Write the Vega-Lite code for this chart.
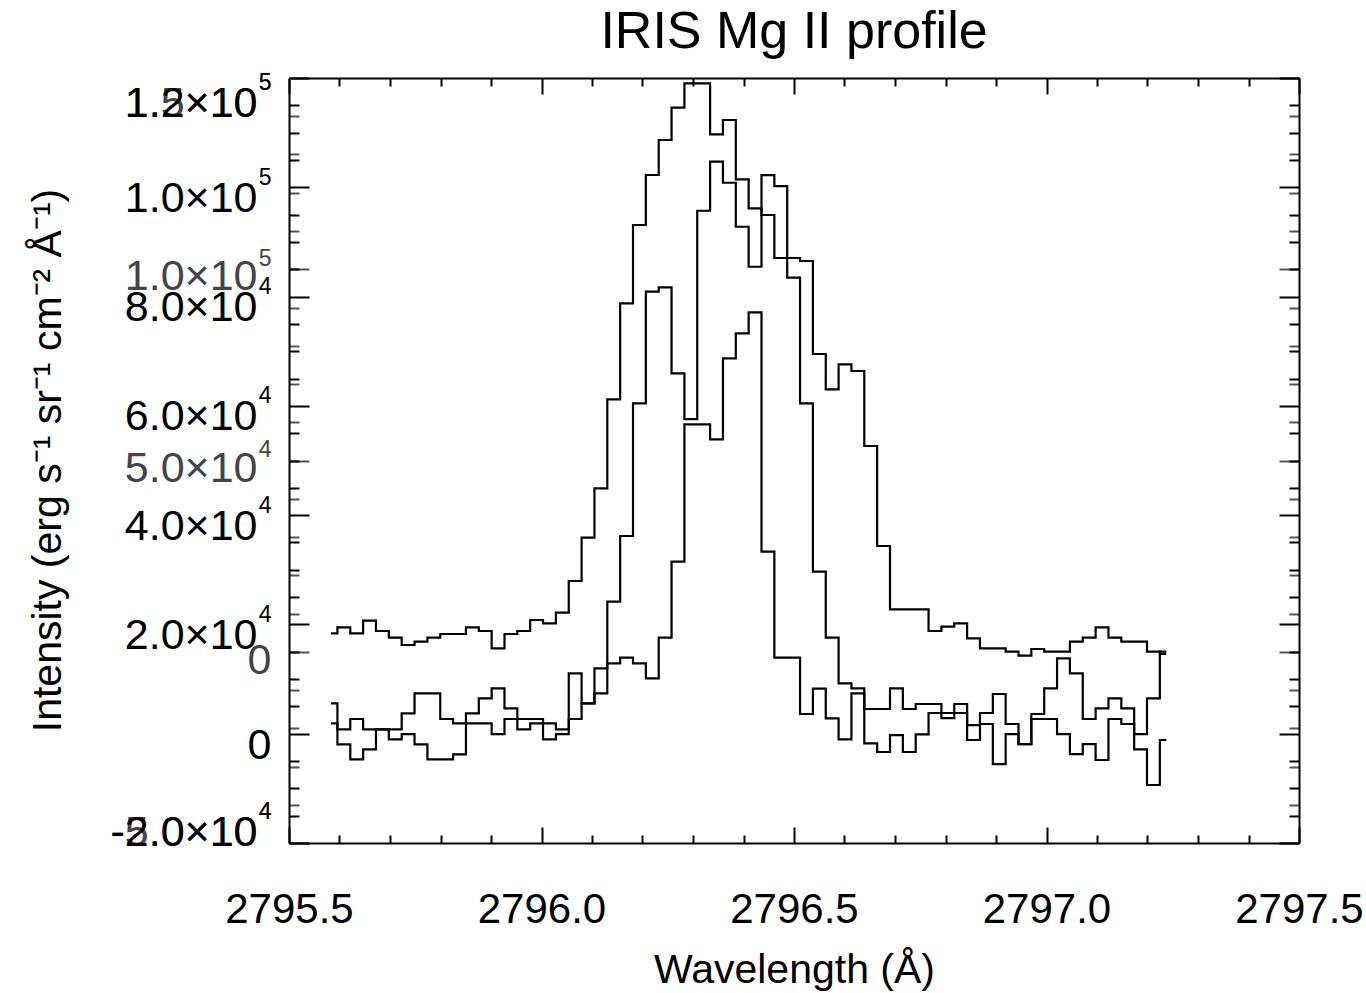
{
  "$schema": "https://vega.github.io/schema/vega-lite/v6.json",
  "width": 1010,
  "height": 765,
  "autosize": {"type": "none"},
  "padding": {"left": 289, "top": 78, "right": 67, "bottom": 150},
  "background": "white",
  "config": {
    "view": {"stroke": null},
    "font": "Liberation Sans",
    "axis": {
      "grid": false,
      "domainColor": "black",
      "domainWidth": 2,
      "tickColor": "black",
      "tickWidth": 2,
      "labelFont": "Liberation Sans",
      "labelFontSize": 43,
      "labelColor": "black",
      "labelOverlap": false,
      "labelFlush": false,
      "titleFont": "Liberation Sans",
      "titleFontSize": 41,
      "titleFontWeight": "normal",
      "titleColor": "black"
    }
  },
  "title": {
    "text": "IRIS Mg II profile",
    "font": "Liberation Sans",
    "fontSize": 52,
    "fontWeight": "normal",
    "color": "black",
    "anchor": "middle",
    "frame": "group",
    "baseline": "alphabetic",
    "offset": -29
  },
  "data": {
    "values": [
      {"w": 2795.5832, "A": 4820, "B": 5560, "C": 1900},
      {"w": 2795.6086, "A": 6390, "B": 800, "C": -1940},
      {"w": 2795.6341, "A": 4820, "B": 2690, "C": -4690},
      {"w": 2795.6595, "A": 8120, "B": 800, "C": -2860},
      {"w": 2795.6850, "A": 5430, "B": 800, "C": 800},
      {"w": 2795.7104, "A": 3670, "B": 800, "C": -1030},
      {"w": 2795.7359, "A": 1770, "B": 3730, "C": -60},
      {"w": 2795.7613, "A": 2630, "B": 7390, "C": -1940},
      {"w": 2795.7868, "A": 3670, "B": 7390, "C": -4690},
      {"w": 2795.8122, "A": 4640, "B": 2690, "C": -4690},
      {"w": 2795.8377, "A": 4640, "B": 1900, "C": -3770},
      {"w": 2795.8631, "A": 6390, "B": 3730, "C": 1900},
      {"w": 2795.8886, "A": 5430, "B": 6480, "C": 1900},
      {"w": 2795.9140, "A": 900, "B": 8310, "C": -60},
      {"w": 2795.9394, "A": 4640, "B": 4650, "C": 2690},
      {"w": 2795.9649, "A": 5430, "B": 2690, "C": 800},
      {"w": 2795.9903, "A": 8300, "B": 2690, "C": 1900},
      {"w": 2796.0158, "A": 7440, "B": 1900, "C": -1030},
      {"w": 2796.0412, "A": 10210, "B": 800, "C": -60},
      {"w": 2796.0667, "A": 18500, "B": 11050, "C": 2690},
      {"w": 2796.0921, "A": 29820, "B": 5560, "C": 5560},
      {"w": 2796.1176, "A": 42730, "B": 11970, "C": 7390},
      {"w": 2796.1430, "A": 66000, "B": 24160, "C": 12880},
      {"w": 2796.1685, "A": 91100, "B": 36180, "C": 13910},
      {"w": 2796.1939, "A": 111570, "B": 60460, "C": 12880},
      {"w": 2796.2194, "A": 124640, "B": 80890, "C": 10140},
      {"w": 2796.2448, "A": 133790, "B": 81690, "C": 17570},
      {"w": 2796.2703, "A": 142240, "B": 65950, "C": 31480},
      {"w": 2796.2957, "A": 148620, "B": 57590, "C": 56620},
      {"w": 2796.3211, "A": 148620, "B": 95710, "C": 56620},
      {"w": 2796.3466, "A": 135280, "B": 104680, "C": 53880},
      {"w": 2796.3720, "A": 139020, "B": 100830, "C": 68700},
      {"w": 2796.3975, "A": 123520, "B": 92780, "C": 73270},
      {"w": 2796.4229, "A": 115940, "B": 85460, "C": 77120},
      {"w": 2796.4484, "A": 114180, "B": 102240, "C": 33310},
      {"w": 2796.4738, "A": 102940, "B": 100230, "C": 13910},
      {"w": 2796.4993, "A": 102940, "B": 83450, "C": 13910},
      {"w": 2796.5247, "A": 102160, "B": 60460, "C": 3610},
      {"w": 2796.5502, "A": 77840, "B": 29650, "C": 8240},
      {"w": 2796.5756, "A": 68620, "B": 17570, "C": 2820},
      {"w": 2796.6010, "A": 75150, "B": 9220, "C": -1030},
      {"w": 2796.6265, "A": 73400, "B": 8310, "C": 7390},
      {"w": 2796.6519, "A": 53790, "B": 4520, "C": -1760},
      {"w": 2796.6774, "A": 27650, "B": 4520, "C": -3350},
      {"w": 2796.7028, "A": 11100, "B": 8310, "C": -240},
      {"w": 2796.7283, "A": 11100, "B": 4520, "C": -3350},
      {"w": 2796.7537, "A": 11100, "B": 5440, "C": -110},
      {"w": 2796.7792, "A": 5430, "B": 5440, "C": 3790},
      {"w": 2796.8046, "A": 6550, "B": 3790, "C": 2870},
      {"w": 2796.8301, "A": 7440, "B": 5440, "C": 3790},
      {"w": 2796.8555, "A": 3520, "B": 1590, "C": -1150},
      {"w": 2796.8810, "A": 900, "B": 3790, "C": 1780},
      {"w": 2796.9064, "A": 900, "B": 7270, "C": -5550},
      {"w": 2796.9318, "A": 10, "B": 1780, "C": -60},
      {"w": 2796.9573, "A": -1030, "B": -1890, "C": -1890},
      {"w": 2796.9827, "A": 720, "B": 3610, "C": 2690},
      {"w": 2797.0082, "A": 10, "B": 8310, "C": 2690},
      {"w": 2797.0336, "A": 10, "B": 13800, "C": -60},
      {"w": 2797.0591, "A": 2630, "B": 11050, "C": -3720},
      {"w": 2797.0845, "A": 3670, "B": 2690, "C": -1890},
      {"w": 2797.1100, "A": 6390, "B": 4650, "C": -4810},
      {"w": 2797.1354, "A": 3670, "B": 6480, "C": 2690},
      {"w": 2797.1609, "A": 2630, "B": 4650, "C": 1780},
      {"w": 2797.1863, "A": 2630, "B": -60, "C": -2860},
      {"w": 2797.2117, "A": 10, "B": 6480, "C": -9390},
      {"w": 2797.2372, "A": -590, "B": 15010, "C": -1150}
    ]
  },
  "resolve": {
    "scale": {"y": "independent"},
    "axis": {"x": "independent", "y": "independent"}
  },
  "layer": [
    {
      "mark": {"type": "line", "interpolate": "step", "color": "black", "strokeWidth": 2.2, "strokeJoin": "miter"},
      "encoding": {
        "x": {"field": "w", "type": "quantitative", "scale": {"domain": [2795.5, 2797.5], "nice": false, "zero": false},
          "axis": {"orient": "bottom", "values": [2795.5, 2795.6, 2795.7, 2795.8, 2795.9, 2796.0, 2796.1, 2796.2, 2796.3, 2796.4, 2796.5, 2796.6, 2796.7, 2796.8, 2796.9, 2797.0, 2797.1, 2797.2, 2797.3, 2797.4, 2797.5],
            "labels": false, "title": null, "domain": true,
            "tickSize": {"condition": {"test": "abs(datum.value * 2 - round(datum.value * 2)) < 0.01", "value": -16}, "value": -8}}},
        "y": {"field": "A", "type": "quantitative", "scale": {"domain": [-50000, 150000], "nice": false, "zero": false},
          "axis": {"orient": "left", "values": [-50000, -40000, -30000, -20000, -10000, 0, 10000, 20000, 30000, 40000, 50000, 60000, 70000, 80000, 90000, 100000, 110000, 120000, 130000, 140000, 150000],
            "labels": false, "title": null, "domain": false, "tickColor": "#555555",
            "tickSize": {"condition": {"test": "abs(datum.value % 50000) < 1", "value": -20}, "value": -10}}}
      }
    },
    {
      "mark": {"type": "line", "opacity": 0},
      "encoding": {
        "x": {"field": "w", "type": "quantitative", "axis": null},
        "y": {"field": "A", "type": "quantitative", "scale": {"domain": [-50000, 150000], "nice": false, "zero": false},
          "axis": {"orient": "left", "values": [-50000, 50000, 100000, 150000], "ticks": false, "domain": false, "title": null,
            "labelColor": "#444444", "labelPadding": 32, "labelBaseline": "middle",
            "labelExpr": "datum.value == 0 ? '' : (datum.value < 0 ? '-' : '') + format(abs(datum.value) / (abs(datum.value) >= 100000 ? 100000 : 10000), '.1f') + '×10'",
            "labelOffset": {"condition": [{"test": "datum.value == 150000", "value": 25}, {"test": "datum.value == -50000", "value": -11}], "value": 7.5}}}
      }
    },
    {
      "mark": {"type": "line", "opacity": 0},
      "encoding": {
        "x": {"field": "w", "type": "quantitative", "axis": null},
        "y": {"field": "A", "type": "quantitative", "scale": {"domain": [-50000, 150000], "nice": false, "zero": false},
          "axis": {"orient": "left", "values": [-50000, 0, 50000, 100000, 150000], "ticks": false, "domain": false, "title": null,
            "labelColor": "#444444", "labelPadding": 18, "labelBaseline": "middle",
            "labelExpr": "datum.value == 0 ? '0' : (abs(datum.value) >= 100000 ? '5' : '4')",
            "labelFontSize": {"condition": {"test": "datum.value == 0", "value": 43}, "value": 23},
            "labelOffset": {"condition": [{"test": "datum.value == 0", "value": 8.5}, {"test": "datum.value == 150000", "value": 4}, {"test": "datum.value == -50000", "value": -32}], "value": -11}}}
      }
    },
    {
      "mark": {"type": "line", "opacity": 0},
      "encoding": {
        "x": {"field": "w", "type": "quantitative",
          "axis": {"orient": "top", "values": [2795.5, 2795.6, 2795.7, 2795.8, 2795.9, 2796.0, 2796.1, 2796.2, 2796.3, 2796.4, 2796.5, 2796.6, 2796.7, 2796.8, 2796.9, 2797.0, 2797.1, 2797.2, 2797.3, 2797.4, 2797.5],
            "labels": false, "title": null, "domain": true,
            "tickSize": {"condition": {"test": "abs(datum.value * 2 - round(datum.value * 2)) < 0.01", "value": -16}, "value": -8}}},
        "y": {"field": "A", "type": "quantitative", "scale": {"domain": [-50000, 150000], "nice": false, "zero": false},
          "axis": {"orient": "right", "values": [-50000, -40000, -30000, -20000, -10000, 0, 10000, 20000, 30000, 40000, 50000, 60000, 70000, 80000, 90000, 100000, 110000, 120000, 130000, 140000, 150000],
            "labels": false, "title": null, "domain": false, "tickColor": "#555555",
            "tickSize": {"condition": {"test": "abs(datum.value % 50000) < 1", "value": -20}, "value": -10}}}
      }
    },
    {
      "mark": {"type": "line", "interpolate": "step", "color": "black", "strokeWidth": 2.2, "strokeJoin": "miter"},
      "encoding": {
        "x": {"field": "w", "type": "quantitative",
          "axis": {"orient": "bottom", "values": [2795.5, 2796.0, 2796.5, 2797.0, 2797.5], "format": ".1f", "ticks": false, "domain": false,
            "labelFontSize": 42, "labelPadding": 46, "title": "Wavelength (Å)", "titleBaseline": "alphabetic", "titleY": 139}},
        "y": {"field": "B", "type": "quantitative", "scale": {"domain": [-20000, 120000], "nice": false, "zero": false},
          "axis": {"orient": "left", "values": [-20000, -15000, -10000, -5000, 0, 5000, 10000, 15000, 20000, 25000, 30000, 35000, 40000, 45000, 50000, 55000, 60000, 65000, 70000, 75000, 80000, 85000, 90000, 95000, 100000, 105000, 110000, 115000, 120000],
            "labels": false, "title": null, "domain": true,
            "tickSize": {"condition": {"test": "abs(datum.value % 20000) < 1", "value": -20}, "value": -10}}}
      }
    },
    {
      "mark": {"type": "line", "interpolate": "step", "color": "black", "strokeWidth": 2.2, "strokeJoin": "miter"},
      "encoding": {
        "x": {"field": "w", "type": "quantitative", "axis": null},
        "y": {"field": "C", "type": "quantitative", "scale": {"domain": [-20000, 120000], "nice": false, "zero": false},
          "axis": {"orient": "left", "values": [-20000, 20000, 40000, 60000, 80000, 100000, 120000], "ticks": false, "domain": false,
            "labelPadding": 32, "labelBaseline": "middle",
            "labelExpr": "datum.value == 0 ? '' : (datum.value < 0 ? '-' : '') + format(abs(datum.value) / (abs(datum.value) >= 100000 ? 100000 : 10000), '.1f') + '×10'",
            "labelOffset": {"condition": [{"test": "datum.value == 120000", "value": 25}, {"test": "datum.value == -20000", "value": -11}], "value": 11},
            "title": "Intensity (erg s⁻¹ sr⁻¹ cm⁻² Å⁻¹)", "titleAngle": 270, "titleBaseline": "alphabetic", "titleAlign": "center",
            "titleX": -229, "titleY": 382}}
      }
    },
    {
      "mark": {"type": "line", "opacity": 0},
      "encoding": {
        "x": {"field": "w", "type": "quantitative", "axis": null},
        "y": {"field": "B", "type": "quantitative", "scale": {"domain": [-20000, 120000], "nice": false, "zero": false},
          "axis": {"orient": "left", "values": [-20000, 0, 20000, 40000, 60000, 80000, 100000, 120000], "ticks": false, "domain": false, "title": null,
            "labelPadding": 18, "labelBaseline": "middle",
            "labelExpr": "datum.value == 0 ? '0' : (abs(datum.value) >= 100000 ? '5' : '4')",
            "labelFontSize": {"condition": {"test": "datum.value == 0", "value": 43}, "value": 23},
            "labelOffset": {"condition": [{"test": "datum.value == 0", "value": 12}, {"test": "datum.value == 120000", "value": 4}, {"test": "datum.value == -20000", "value": -32}], "value": -10}}}
      }
    },
    {
      "mark": {"type": "line", "opacity": 0},
      "encoding": {
        "x": {"field": "w", "type": "quantitative", "axis": null},
        "y": {"field": "B", "type": "quantitative", "scale": {"domain": [-20000, 120000], "nice": false, "zero": false},
          "axis": {"orient": "right", "values": [-20000, -15000, -10000, -5000, 0, 5000, 10000, 15000, 20000, 25000, 30000, 35000, 40000, 45000, 50000, 55000, 60000, 65000, 70000, 75000, 80000, 85000, 90000, 95000, 100000, 105000, 110000, 115000, 120000],
            "labels": false, "title": null, "domain": true,
            "tickSize": {"condition": {"test": "abs(datum.value % 20000) < 1", "value": -20}, "value": -10}}}
      }
    }
  ]
}
